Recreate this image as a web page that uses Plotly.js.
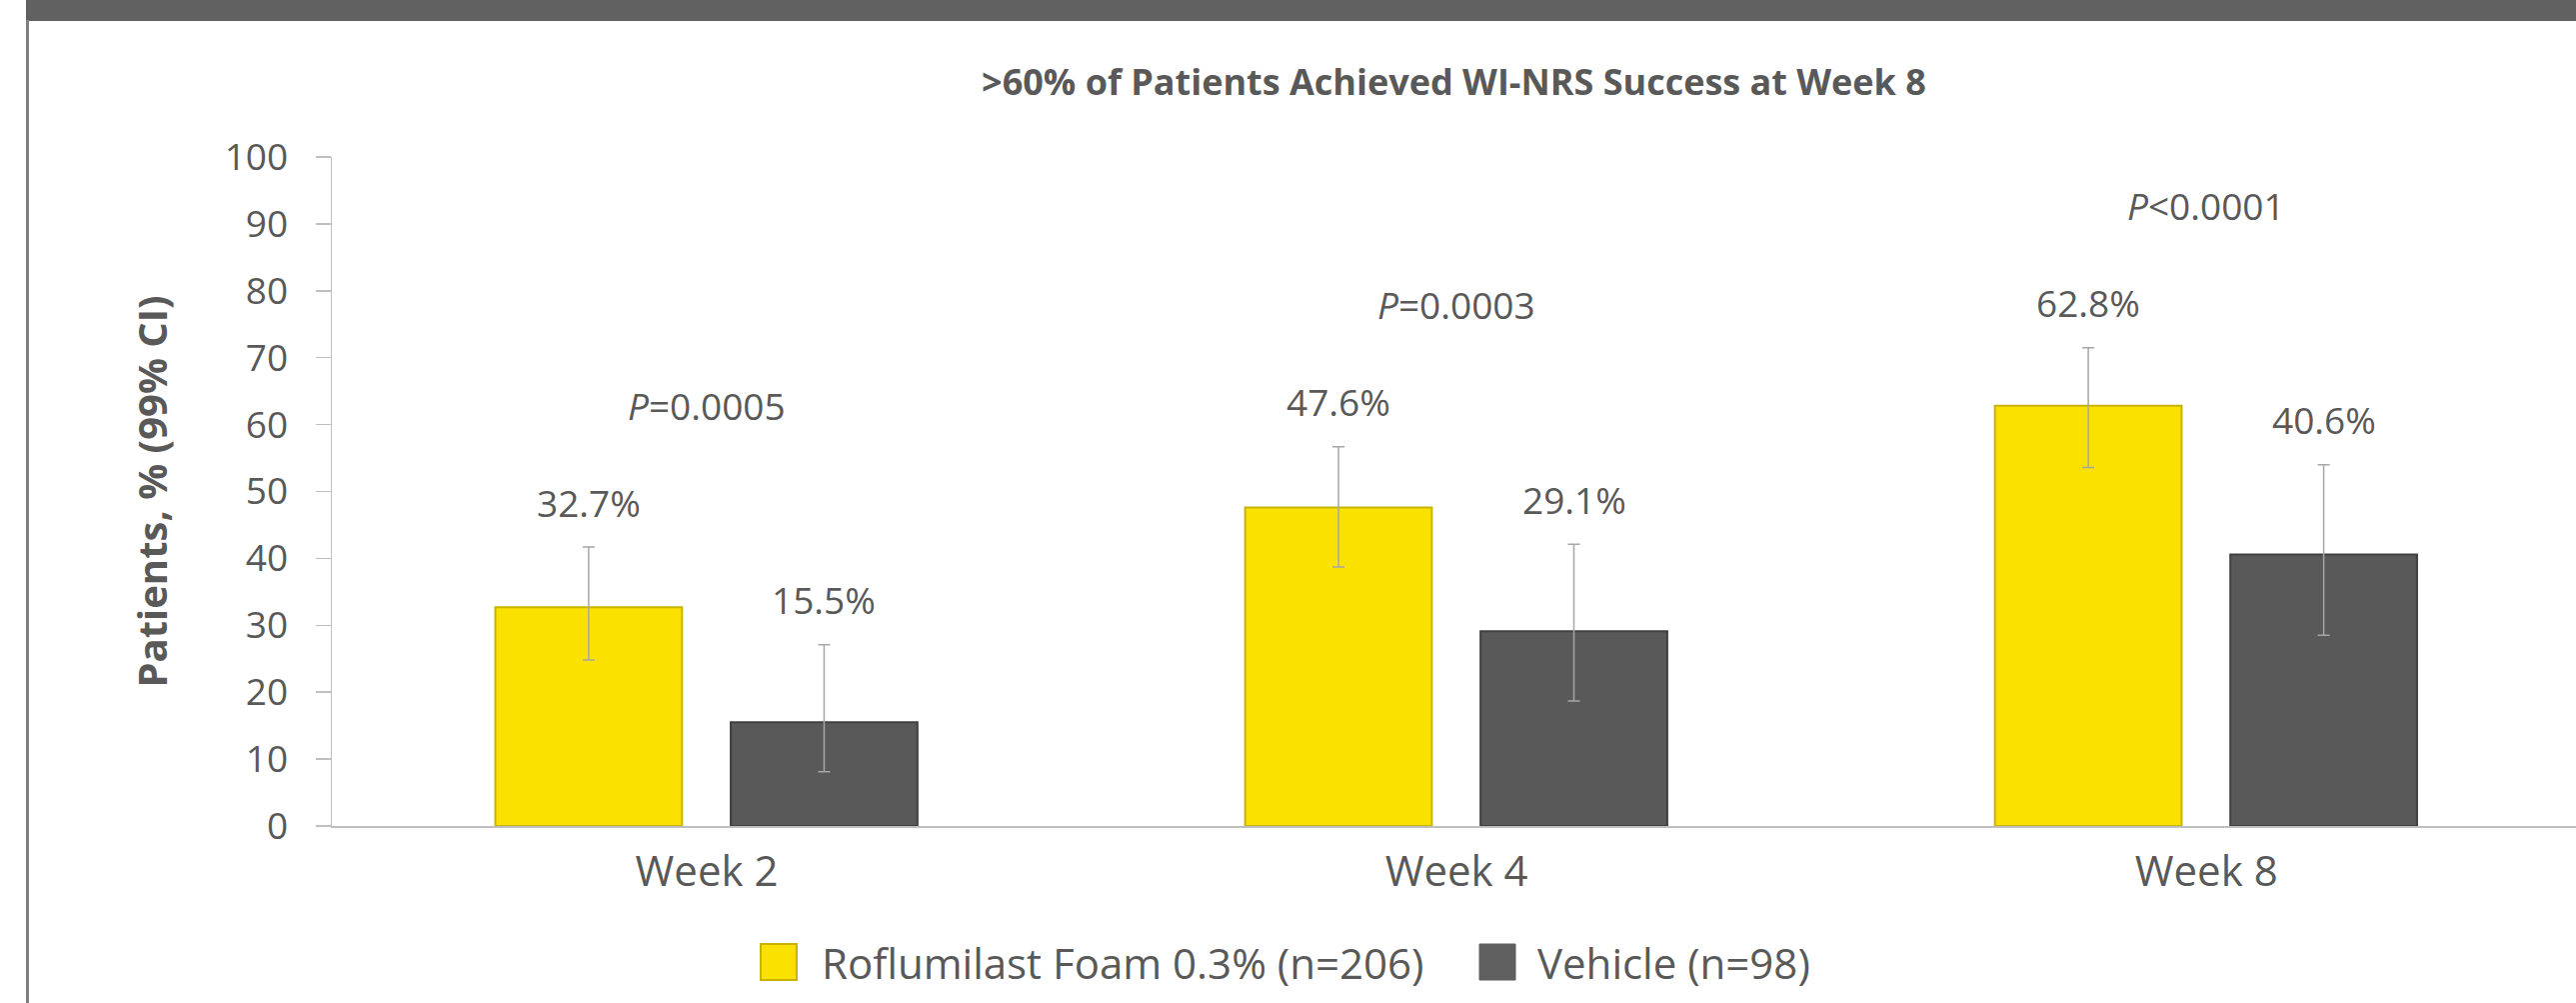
<!DOCTYPE html>
<html>
<head>
<meta charset="utf-8">
<script src="https://cdn.plot.ly/plotly-3.0.1.min.js"></script>
<style>
  html, body { margin: 0; padding: 0; background: #ffffff; overflow: hidden; width: 2577px; height: 1003px; }
  #wrap { position: relative; width: 2577px; height: 1003px; overflow: hidden; }
  #chart { position: absolute; left: 0; top: 0; width: 2577px; height: 1003px; }
  #frame { position: absolute; left: 26px; top: 20px; width: 2.5px; height: 990px; background: #7F7F7F; pointer-events: none; }
</style>
</head>
<body>
<div id="wrap">
  <div id="chart"></div>
  <div id="frame"></div>
</div>
<script>
// ---- data ----
const weeks = ['Week 2', 'Week 4', 'Week 8'];
const roflumilast = [32.7, 47.6, 62.8];
const roflumilastCiLow = [24.8, 38.7, 53.6];
const roflumilastCiHigh = [41.7, 56.7, 71.5];
const vehicle = [15.5, 29.1, 40.6];
const vehicleCiLow = [8.1, 18.7, 28.5];
const vehicleCiHigh = [27.1, 42.1, 54.0];
const pValueLabels = ['<i>P</i>=0.0005', '<i>P</i>=0.0003', '<i>P</i>&lt;0.0001'];
const seriesNames = ['Roflumilast Foam 0.3% (n=206)', 'Vehicle (n=98)'];
const chartTitle = '>60% of Patients Achieved WI-NRS Success at Week 8';
const yTitle = 'Patients, % (99% CI)';

// ---- style ----
const W = 2577, H = 1003;
const M = { l: 332, r: 0, t: 157, b: 177 };
const FONT = 'Open Sans, sans-serif';
const TXT = '#595959';
const YELLOW = '#FAE100', YELLOW_LINE = '#C8B400';
const GREY = '#595959', GREY_LINE = '#404040';
const ERR = '#A6A6A6';
const AXIS = '#BFBFBF';
const BAR_W = 0.249, OFF_A = -0.282, OFF_B = 0.032;

const plotW = W - M.l - M.r, plotH = H - M.t - M.b;
const px2x = p => (p - M.l) / plotW;
const px2y = p => (H - M.b - p) / plotH;

const diff = (a, b) => a.map((v, i) => +(v - b[i]).toFixed(2));

const traceA = {
  type: 'bar', name: seriesNames[0], x: weeks, y: roflumilast,
  width: BAR_W, offset: OFF_A, showlegend: false,
  marker: { color: YELLOW, line: { color: YELLOW_LINE, width: 2 } },
  error_y: { type: 'data', symmetric: false,
    array: diff(roflumilastCiHigh, roflumilast),
    arrayminus: diff(roflumilast, roflumilastCiLow),
    color: ERR, thickness: 1.5, width: 6 },
  hoverinfo: 'skip'
};
const traceB = {
  type: 'bar', name: seriesNames[1], x: weeks, y: vehicle,
  width: BAR_W, offset: OFF_B, showlegend: false,
  marker: { color: GREY, line: { color: GREY_LINE, width: 2 } },
  error_y: { type: 'data', symmetric: false,
    array: diff(vehicleCiHigh, vehicle),
    arrayminus: diff(vehicle, vehicleCiLow),
    color: ERR, thickness: 1.5, width: 6 },
  hoverinfo: 'skip'
};

const annotations = [];
weeks.forEach((w, i) => {
  annotations.push({
    x: i + OFF_A + BAR_W / 2, y: roflumilastCiHigh[i], xref: 'x', yref: 'y',
    text: roflumilast[i].toFixed(1) + '%', showarrow: false,
    yanchor: 'middle', xanchor: 'center', yshift: 45,
    font: { family: FONT, size: 37, color: TXT }
  });
  annotations.push({
    x: i + OFF_B + BAR_W / 2, y: vehicleCiHigh[i], xref: 'x', yref: 'y',
    text: vehicle[i].toFixed(1) + '%', showarrow: false,
    yanchor: 'middle', xanchor: 'center', yshift: 45,
    font: { family: FONT, size: 37, color: TXT }
  });
  annotations.push({
    x: i, y: roflumilastCiHigh[i], xref: 'x', yref: 'y',
    text: pValueLabels[i], showarrow: false,
    yanchor: 'middle', xanchor: 'center', yshift: 142,
    font: { family: FONT, size: 37, color: TXT }
  });
});

// legend (drawn manually to get large swatches)
const legendY = 962;
annotations.push({
  x: px2x(820), y: px2y(legendY), xref: 'paper', yref: 'paper',
  text: seriesNames[0], showarrow: false, xanchor: 'left', yanchor: 'middle',
  font: { family: FONT, size: 42, color: TXT }
});
annotations.push({
  x: px2x(1536), y: px2y(legendY), xref: 'paper', yref: 'paper',
  text: seriesNames[1], showarrow: false, xanchor: 'left', yanchor: 'middle',
  font: { family: FONT, size: 42, color: TXT }
});

const shapes = [
  // header band
  { type: 'rect', xref: 'paper', yref: 'paper', layer: 'below',
    x0: px2x(26), x1: 1, y0: px2y(21), y1: px2y(0),
    fillcolor: '#616161', line: { width: 0 } },
  // legend swatches
  { type: 'rect', xref: 'paper', yref: 'paper',
    x0: px2x(761), x1: px2x(797), y0: px2y(legendY + 18), y1: px2y(legendY - 18),
    fillcolor: YELLOW, line: { color: YELLOW_LINE, width: 2 } },
  { type: 'rect', xref: 'paper', yref: 'paper',
    x0: px2x(1480), x1: px2x(1516), y0: px2y(legendY + 18), y1: px2y(legendY - 18),
    fillcolor: '#5F5F5F', line: { color: '#5F5F5F', width: 1 } }
];

const layout = {
  width: W, height: H,
  margin: M,
  paper_bgcolor: '#ffffff', plot_bgcolor: '#ffffff',
  font: { family: FONT, color: TXT },
  barmode: 'overlay',
  showlegend: false,
  title: {
    text: chartTitle, xref: 'paper', x: 0.5, xanchor: 'center',
    yref: 'container', y: 1 - 82 / H, yanchor: 'middle',
    font: { family: FONT, size: 36, color: TXT, weight: 700 }
  },
  xaxis: {
    type: 'category', range: [-0.5, 2.493],
    showline: true, linecolor: AXIS, linewidth: 2,
    ticks: '', showgrid: false, zeroline: false,
    tickfont: { family: FONT, size: 42, color: TXT },
    ticklabelstandoff: 8, fixedrange: true
  },
  yaxis: {
    range: [0, 100], tick0: 0, dtick: 10,
    showline: true, linecolor: AXIS, linewidth: 1.5,
    ticks: 'outside', ticklen: 15, tickwidth: 1.5, tickcolor: AXIS,
    showgrid: false, zeroline: false,
    tickfont: { family: FONT, size: 37, color: TXT },
    ticklabelstandoff: 20,
    title: { text: yTitle, standoff: 44,
      font: { family: FONT, size: 40, color: TXT, weight: 700 } },
    fixedrange: true
  },
  annotations: annotations,
  shapes: shapes
};

Plotly.newPlot('chart', [traceA, traceB], layout, { displayModeBar: false, staticPlot: true });
</script>
</body>
</html>
